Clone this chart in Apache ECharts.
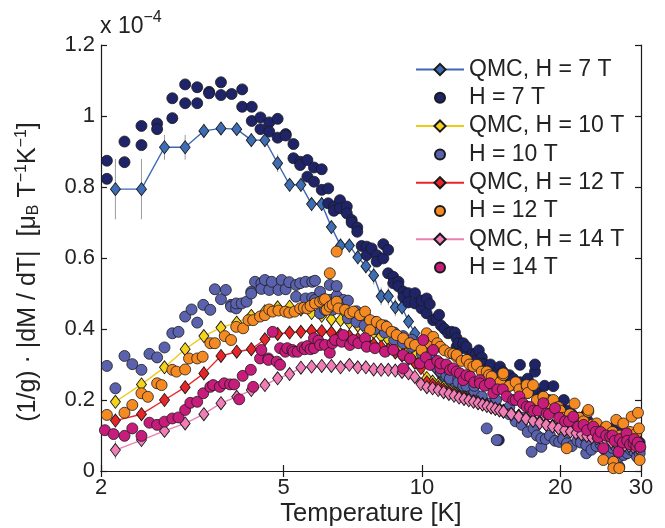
<!DOCTYPE html>
<html><head><meta charset="utf-8">
<script src="https://cdn.jsdelivr.net/npm/echarts@6/dist/echarts.min.js"></script>
<style>html,body{margin:0;padding:0;background:#fff}#c{width:665px;height:528px}</style>
</head><body><div id="c"></div>
<script>
const xTicks=[2,5,10,20,30];
const yTicks=[0,0.2,0.4,0.6,0.8,1,1.2];
const legendNames=['QMC, H = 7 T','H = 7 T','QMC, H = 10 T','H = 10 T','QMC, H = 12 T','H = 12 T','QMC, H = 14 T','H = 14 T'];

const qmcT=[2.15,2.45,2.75,3.05,3.35,3.65,3.95,4.25,4.55,4.85,5.15,5.45,5.75,6.05,6.35,6.65,6.95,7.25,7.55,7.85,8.15,8.45,8.75,9.05,9.35,9.65,9.95,
10.25,10.55,10.85,11.15,11.45,11.75,12.05,12.35,12.65,12.95,13.25,13.55,13.85,14.15,14.45,14.75,15.05,
15.65,16.25,16.85,17.45,18.05,18.65,19.25,19.85,20.45,21.05,21.65,22.25,22.85,23.45,24.05,24.65,25.25,25.85,26.45,27.05,27.65,28.25,28.85,29.45];

const qmc7=[0.794,0.794,0.912,0.912,0.958,0.965,0.963,0.932,0.932,0.867,0.806,0.806,0.752,0.752,0.687,0.635,0.635,0.602,0.577,0.551,0.492,0.492,0.461,0.461,0.421,0.388,0.360,
0.330,0.300,0.280,0.265,0.250,0.238,0.228,0.220,0.213,0.206,0.200,0.194,0.189,0.184,0.179,0.174,0.170,
0.163,0.156,0.150,0.144,0.138,0.132,0.127,0.122,0.118,0.113,0.109,0.105,0.101,0.098,0.094,0.091,0.087,0.084,0.081,0.078,0.075,0.073,0.070,0.068];
const qmc10=[0.195,0.244,0.292,0.343,0.380,0.404,0.418,0.437,0.450,0.461,0.463,0.455,0.445,0.437,0.427,0.425,0.418,0.410,0.400,0.390,0.380,0.370,0.360,0.350,0.340,0.325,0.310,
0.262,0.252,0.244,0.236,0.229,0.222,0.216,0.210,0.205,0.200,0.195,0.190,0.186,0.181,0.176,0.172,0.168,
0.161,0.155,0.148,0.142,0.137,0.131,0.126,0.121,0.117,0.112,0.108,0.104,0.100,0.097,0.093,0.090,0.086,0.083,0.080,0.077,0.075,0.072,0.069,0.067];
const qmc12=[0.142,0.160,0.200,0.236,0.275,0.324,0.336,0.343,0.371,0.386,0.390,0.392,0.395,0.394,0.390,0.385,0.380,0.372,0.365,0.357,0.350,0.342,0.334,0.325,0.316,0.305,0.290,
0.250,0.243,0.236,0.229,0.223,0.217,0.211,0.206,0.202,0.197,0.193,0.189,0.185,0.180,0.176,0.172,0.168,
0.161,0.154,0.148,0.142,0.136,0.131,0.126,0.121,0.116,0.112,0.108,0.104,0.100,0.096,0.093,0.089,0.086,0.083,0.080,0.077,0.074,0.072,0.069,0.067];
const qmc14=[0.059,0.087,0.113,0.134,0.160,0.191,0.209,0.228,0.242,0.261,0.273,0.291,0.294,0.296,0.296,0.292,0.299,0.292,0.292,0.286,0.285,0.285,0.283,0.279,0.275,0.265,0.245,
0.236,0.233,0.228,0.222,0.217,0.212,0.207,0.203,0.199,0.195,0.191,0.187,0.183,0.179,0.175,0.171,0.167,
0.160,0.153,0.147,0.141,0.135,0.130,0.125,0.120,0.115,0.111,0.107,0.103,0.099,0.095,0.092,0.088,0.085,0.082,0.079,0.076,0.073,0.071,0.068,0.066];

const qmc7Err=[0.085,0.085,0.035,0.035,0.02,0.015,0.015,0.02,0.02,0.025,0.02,0.02,0.02,0.02,0.02,0.02,0.02,0.02,0.02,0.025,0.025,0.025,0.025,0.02,0.02,0.02,0.02];
const qmc10Err=[0.012,0.012,0.012,0.015,0.015,0.012,0.012,0.012,0.012,0.012,0.012,0.012,0.012,0.012,0.012,0.012,0.012,0.012,0.012,0.012,0.012,0.012,0.012,0.012,0.012,0.012,0.012];
const qmc12Err=[0.012,0.012,0.012,0.015,0.02,0.015,0.012,0.012,0.012,0.012,0.012,0.012,0.012,0.012,0.012,0.012,0.012,0.012,0.012,0.012,0.012,0.012,0.012,0.012,0.012,0.012,0.012];
const qmc14Err=[0.025,0.015,0.012,0.012,0.015,0.012,0.012,0.012,0.012,0.012,0.012,0.012,0.012,0.012,0.012,0.012,0.012,0.012,0.012,0.012,0.012,0.012,0.012,0.012,0.012,0.012,0.012];

const h7=[[2.06,0.874],[2.06,0.823],[2.25,0.928],[2.25,0.870],[2.45,0.972],[2.45,0.918],[2.65,0.979],[2.65,0.963],[2.86,1.050],[2.86,0.994],[3.05,1.089],[3.05,1.036],[3.24,1.081],[3.24,1.036],[3.44,1.068],[3.44,1.064],[3.65,1.095],[3.65,1.059],[3.85,1.062],[4.06,1.075],[4.06,1.026],[4.26,1.026],[4.26,0.986],[4.45,0.996],[4.45,0.963],[4.65,0.982],[4.65,0.956],[4.85,0.992],[4.85,0.939],[5.05,0.949],[5.05,0.945],[5.25,0.921],[5.25,0.881],[5.43,0.871],[5.43,0.862],[5.63,0.876],[5.63,0.829],[5.82,0.855],[5.82,0.815],[6.05,0.850],[6.05,0.792],[6.25,0.796],[6.25,0.754],[6.43,0.745],[6.43,0.733],[6.63,0.763],[6.63,0.740],[6.86,0.745],[6.86,0.726],[7.03,0.707],[7.03,0.700],[7.23,0.686],[7.23,0.674],[7.39,0.634],[7.58,0.632],[7.58,0.608],[7.77,0.627],[7.97,0.608],[7.97,0.590],[8.24,0.639],[8.24,0.599],[8.44,0.623],[8.44,0.557],[8.66,0.547],[8.66,0.529],[8.89,0.533],[8.89,0.520],[9.11,0.505],[9.11,0.490],[9.34,0.501],[9.34,0.475],[9.66,0.501],[9.66,0.472],[9.98,0.458],[9.98,0.480],[10.24,0.444],[10.24,0.486],[10.4,0.470],[10.58,0.425],[10.76,0.430],[10.9,0.440],[11.0,0.410],[11.2,0.400],[11.41,0.388],[11.6,0.392],[11.8,0.390],[11.9,0.350],[11.9,0.374],[12.0,0.360],[12.3,0.346],[12.3,0.360],[12.5,0.350],[12.73,0.322],[12.9,0.330],[13.1,0.330],[13.1,0.310],[13.3,0.340],[13.5,0.320],[13.5,0.303],[13.7,0.300],[13.93,0.280],[13.93,0.290],[14.1,0.300],[14.4,0.270],[14.6,0.280],[14.7,0.087],[14.79,0.294],[14.79,0.256],[15.0,0.280],[15.3,0.260],[15.5,0.270],[15.5,0.240],[15.8,0.260],[16.1,0.240],[16.35,0.299],[16.35,0.250],[16.6,0.230],[17.0,0.260],[17.0,0.220],[17.3,0.240],[17.63,0.280],[17.63,0.300],[17.9,0.220],[18.2,0.210],[18.5,0.240],[18.5,0.200],[18.9,0.200],[19.33,0.239],[19.33,0.190],[19.7,0.180],[20.0,0.160],[20.37,0.200],[20.37,0.170],[20.8,0.170],[21.2,0.160],[21.2,0.150],[21.6,0.140],[22.0,0.150],[22.0,0.130],[22.4,0.130],[22.8,0.160],[23.0,0.140],[23.0,0.120],[23.5,0.120],[24.0,0.130],[24.0,0.110],[24.5,0.120],[25.0,0.120],[25.0,0.100],[25.5,0.110],[26.0,0.120],[26.0,0.095],[26.5,0.100],[27.0,0.110],[27.0,0.090],[27.5,0.095],[28.0,0.100],[28.0,0.085],[28.5,0.090],[29.0,0.090],[29.0,0.070],[29.4,0.085],[29.8,0.080],[29.8,0.060]];

const h10=[[2.06,0.296],[2.15,0.233],[2.25,0.324],[2.34,0.301],[2.45,0.285],[2.55,0.330],[2.65,0.320],[2.75,0.348],[2.86,0.388],[2.95,0.392],[3.05,0.435],[3.15,0.455],[3.24,0.418],[3.34,0.468],[3.46,0.454],[3.54,0.512],[3.65,0.484],[3.74,0.510],[3.84,0.468],[3.84,0.463],[3.94,0.458],[3.94,0.472],[4.05,0.472],[4.15,0.477],[4.25,0.505],[4.25,0.500],[4.33,0.533],[4.47,0.529],[4.47,0.513],[4.55,0.538],[4.65,0.510],[4.71,0.533],[4.87,0.510],[4.95,0.538],[5.05,0.512],[5.14,0.532],[5.32,0.524],[5.32,0.491],[5.43,0.529],[5.58,0.533],[5.58,0.486],[5.77,0.533],[5.77,0.488],[5.85,0.536],[5.85,0.482],[6.00,0.505],[6.00,0.444],[6.15,0.454],[6.30,0.524],[6.30,0.482],[6.39,0.454],[6.52,0.493],[6.52,0.521],[6.74,0.482],[6.9,0.480],[6.9,0.430],[7.2,0.420],[7.2,0.450],[7.5,0.410],[7.5,0.440],[7.9,0.400],[7.9,0.420],[8.3,0.390],[8.3,0.410],[8.7,0.370],[8.7,0.390],[9.1,0.360],[9.1,0.380],[9.5,0.350],[9.5,0.370],[10.0,0.330],[10.0,0.350],[10.3,0.310],[10.5,0.320],[10.5,0.300],[10.8,0.290],[11.0,0.300],[11.0,0.280],[11.3,0.270],[11.5,0.280],[11.5,0.260],[12.0,0.260],[12.0,0.250],[12.3,0.240],[12.5,0.240],[13.0,0.220],[13.0,0.240],[13.3,0.200],[13.5,0.210],[13.84,0.120],[14.0,0.190],[14.55,0.087],[14.5,0.200],[15.0,0.170],[15.5,0.180],[15.5,0.160],[16.0,0.140],[16.5,0.150],[16.5,0.130],[17.0,0.110],[17.34,0.054],[17.5,0.120],[17.8,0.100],[18.2,0.068],[18.2,0.092],[18.6,0.090],[19.0,0.100],[19.5,0.085],[19.9,0.082],[20.3,0.090],[20.7,0.078],[21.2,0.070],[21.8,0.085],[22.2,0.080],[22.8,0.050],[22.8,0.073],[23.4,0.060],[24.0,0.070],[24.5,0.075],[25.0,0.060],[25.5,0.050],[26.0,0.065],[26.4,0.070],[26.9,0.012],[26.9,0.040],[27.5,0.045],[28.0,0.050],[28.5,0.060],[29.0,0.055],[29.4,0.040],[29.8,0.050]];

const h12=[[2.06,0.158],[2.25,0.164],[2.34,0.186],[2.45,0.219],[2.53,0.209],[2.65,0.247],[2.71,0.242],[2.86,0.285],[2.92,0.280],[3.05,0.286],[3.11,0.317],[3.24,0.317],[3.33,0.322],[3.46,0.360],[3.54,0.360],[3.72,0.380],[3.84,0.369],[3.94,0.406],[4.08,0.402],[4.19,0.425],[4.29,0.425],[4.44,0.435],[4.55,0.439],[4.65,0.455],[4.73,0.449],[4.87,0.452],[5.04,0.449],[5.14,0.446],[5.28,0.449],[5.43,0.458],[5.53,0.460],[5.63,0.458],[5.72,0.465],[5.85,0.472],[6.00,0.477],[6.10,0.482],[6.15,0.484],[6.20,0.454],[6.30,0.557],[6.30,0.463],[6.39,0.468],[6.52,0.618],[6.52,0.477],[6.58,0.458],[6.80,0.454],[6.97,0.444],[7.09,0.449],[7.33,0.439],[7.52,0.449],[7.71,0.425],[7.71,0.397],[7.97,0.420],[8.17,0.411],[8.38,0.406],[8.59,0.392],[8.81,0.383],[9.10,0.374],[9.42,0.360],[9.66,0.355],[9.98,0.341],[10.24,0.388],[10.40,0.360],[10.58,0.378],[10.8,0.360],[10.97,0.350],[11.2,0.340],[11.52,0.332],[11.7,0.330],[11.90,0.322],[11.90,0.327],[12.2,0.310],[12.52,0.313],[12.7,0.300],[12.94,0.294],[13.17,0.299],[13.5,0.280],[13.84,0.280],[14.0,0.270],[14.19,0.266],[14.55,0.237],[14.8,0.250],[15.03,0.270],[15.03,0.275],[15.5,0.240],[16.00,0.250],[16.3,0.230],[16.91,0.237],[16.91,0.242],[17.0,0.220],[17.46,0.242],[17.8,0.200],[18.38,0.209],[18.8,0.190],[19.33,0.200],[19.8,0.180],[20.0,0.170],[20.3,0.150],[20.67,0.064],[21.0,0.160],[21.3,0.140],[21.5,0.190],[22.0,0.150],[22.2,0.130],[22.5,0.140],[23.03,0.167],[23.03,0.172],[23.5,0.130],[23.8,0.120],[24.02,0.134],[24.5,0.100],[24.83,0.031],[25.0,0.120],[25.2,0.125],[25.6,0.090],[26.0,0.110],[26.11,0.026],[26.11,0.008],[26.5,0.144],[26.8,0.090],[26.9,0.008],[27.0,0.100],[27.45,0.134],[27.8,0.080],[28.0,0.100],[28.4,0.110],[28.63,0.153],[29.0,0.090],[29.2,0.070],[29.3,0.106],[29.55,0.164],[29.7,0.120],[29.8,0.031]];

const h14=[[2.04,0.115],[2.13,0.104],[2.25,0.099],[2.34,0.120],[2.45,0.099],[2.55,0.136],[2.65,0.130],[2.75,0.139],[2.86,0.148],[2.95,0.151],[3.05,0.172],[3.13,0.192],[3.24,0.195],[3.34,0.219],[3.46,0.237],[3.51,0.242],[3.63,0.237],[3.71,0.247],[3.82,0.244],[3.90,0.244],[4.00,0.202],[4.07,0.268],[4.24,0.285],[4.29,0.237],[4.44,0.317],[4.47,0.341],[4.63,0.317],[4.63,0.313],[4.73,0.392],[4.83,0.308],[4.91,0.346],[4.91,0.299],[5.04,0.336],[5.09,0.346],[5.22,0.341],[5.25,0.336],[5.36,0.336],[5.49,0.348],[5.56,0.343],[5.63,0.352],[5.72,0.343],[5.82,0.346],[5.82,0.374],[5.95,0.367],[6.00,0.355],[6.15,0.355],[6.30,0.333],[6.39,0.360],[6.47,0.369],[6.69,0.364],[6.74,0.383],[6.97,0.355],[7.09,0.369],[7.27,0.360],[7.52,0.374],[7.58,0.350],[7.90,0.346],[8.31,0.336],[8.66,0.341],[9.10,0.327],[9.10,0.289],[9.42,0.317],[9.90,0.303],[10.07,0.369],[10.2,0.320],[10.41,0.299],[10.58,0.341],[10.8,0.310],[10.97,0.289],[10.97,0.303],[11.3,0.300],[11.52,0.285],[11.70,0.289],[11.9,0.280],[12.10,0.275],[12.30,0.256],[12.5,0.270],[12.73,0.266],[13.0,0.250],[13.38,0.256],[13.38,0.247],[13.7,0.240],[14.07,0.247],[14.30,0.219],[14.6,0.230],[15.0,0.230],[15.3,0.210],[15.81,0.200],[16.0,0.200],[16.3,0.210],[16.6,0.190],[16.91,0.181],[17.2,0.180],[17.5,0.170],[17.9,0.170],[18.38,0.191],[18.69,0.162],[18.9,0.160],[19.49,0.177],[19.9,0.150],[20.5,0.140],[20.9,0.140],[21.36,0.153],[21.9,0.125],[22.5,0.130],[22.9,0.115],[23.61,0.125],[23.9,0.110],[24.2,0.095],[24.5,0.110],[24.83,0.064],[25.2,0.100],[25.7,0.097],[26.0,0.100],[26.3,0.085],[26.8,0.054],[27.0,0.090],[27.4,0.080],[27.9,0.106],[28.0,0.085],[28.4,0.075],[28.9,0.078],[29.0,0.090],[29.3,0.070],[29.5,0.080],[29.9,0.068]];

const FONT='"Liberation Sans", Arial, Helvetica, sans-serif';
const lg=v=>Math.log10(v);
const qmcData=vals=>vals.map((v,i)=>[lg(qmcT[i]),v]);
const errData=(vals,errs)=>errs.map((e,i)=>[lg(qmcT[i]),vals[i]-e,vals[i]+e]);
const ptData=pairs=>pairs.map(p=>[lg(p[0]),p[1]]);
const EDGE='#1a1a1a';
const circleIcon='path://M0,0M14,14M2,7a5,5 0 1,0 10,0a5,5 0 1,0 -10,0Z';

function errSeries(vals,errs){
  return {type:'custom',data:errData(vals,errs),encode:{x:0,y:[1,2]},silent:true,z:2,
    renderItem:(p,api)=>{const a=api.coord([api.value(0),api.value(1)]);const b=api.coord([api.value(0),api.value(2)]);
      return {type:'line',shape:{x1:a[0],y1:a[1],x2:b[0],y2:b[1]},style:{stroke:'#9c9c9c',lineWidth:1}};}};
}
function qmcSeries(name,vals,lineColor,fill){
  return {type:'line',name,data:qmcData(vals),symbol:'diamond',symbolSize:[10,13],showSymbol:true,z:2,
    lineStyle:{color:lineColor,width:1.4},itemStyle:{color:fill,borderColor:EDGE,borderWidth:0.9}};
}
function dataSeries(name,pairs,fill){
  return {type:'scatter',name,data:ptData(pairs),symbol:'circle',symbolSize:11,z:2,
    itemStyle:{color:fill,borderColor:EDGE,borderWidth:0.8,opacity:1}};
}
const C={q7:['#3E68B3','#3D6DB5'],d7:'#1F2468',q10:['#EDCB19','#F3D31C'],d10:'#5A62AE',q12:['#E8262A','#E8262A'],d12:'#F58A23',q14:['#EE7FB4','#F07DB5'],d14:'#C71C7B'};

const chart=echarts.init(document.getElementById('c'),null,{renderer:'canvas'});
const axisLineStyle={color:'#1a1a1a',width:1.2};
chart.setOption({
  animation:false,
  backgroundColor:'#fff',
  grid:{left:101,right:24,top:45,bottom:57,containLabel:false},
  xAxis:[
    {type:'value',min:lg(xTicks[0]),max:lg(xTicks[xTicks.length-1]),position:'bottom',
     axisLine:{show:true,lineStyle:axisLineStyle},splitLine:{show:false},
     axisTick:{show:true,inside:true,length:6,lineStyle:axisLineStyle,customValues:xTicks.map(lg)},
     axisLabel:{show:true,customValues:xTicks.map(lg),formatter:v=>String(Math.round(Math.pow(10,v))),fontFamily:FONT,fontSize:22,color:'#222',margin:6}},
    {type:'value',min:lg(xTicks[0]),max:lg(xTicks[xTicks.length-1]),position:'top',
     axisLine:{show:true,lineStyle:axisLineStyle},splitLine:{show:false},
     axisTick:{show:true,inside:true,length:6,lineStyle:axisLineStyle,customValues:xTicks.map(lg)},
     axisLabel:{show:false}}
  ],
  yAxis:[
    {type:'value',min:yTicks[0],max:yTicks[yTicks.length-1],interval:0.2,position:'left',
     axisLine:{show:true,lineStyle:axisLineStyle},splitLine:{show:false},
     axisTick:{show:true,inside:true,length:6,lineStyle:axisLineStyle},
     axisLabel:{formatter:v=>String(+v.toFixed(1)),fontFamily:FONT,fontSize:22,color:'#222',margin:6}},
    {type:'value',min:yTicks[0],max:yTicks[yTicks.length-1],interval:0.2,position:'right',
     axisLine:{show:true,lineStyle:axisLineStyle},splitLine:{show:false},
     axisTick:{show:true,inside:true,length:6,lineStyle:axisLineStyle},axisLabel:{show:false}}
  ],
  legend:{orient:'vertical',left:415,top:58,padding:0,itemWidth:48,itemHeight:14,itemGap:5.3,selectedMode:false,
    textStyle:{fontFamily:FONT,fontSize:23,lineHeight:23,color:'#222'},
    data:legendNames.map((n,i)=>i%2===0?{name:n}:{name:n,icon:circleIcon})},
  graphic:[
    {type:'text',x:28,y:272,rotation:Math.PI/2,silent:true,
     style:{text:'(1/g) · |dM / dT|  [μ{sub|B} T{sup|−1}K{sup|−1}]',fontFamily:FONT,fontSize:25,fill:'#222',align:'center',verticalAlign:'middle',
       rich:{sub:{fontFamily:FONT,fontSize:16,fill:'#222',padding:[11,0,0,0]},sup:{fontFamily:FONT,fontSize:16,fill:'#222',padding:[0,0,12,0]}}}},
    {type:'text',x:100,y:27,silent:true,
     style:{text:'x 10{sup|−4}',fontFamily:FONT,fontSize:23,fill:'#222',align:'left',verticalAlign:'middle',
       rich:{sup:{fontFamily:FONT,fontSize:16,fill:'#222',padding:[0,0,18,0]}}}},
    {type:'text',x:371,y:514,silent:true,
     style:{text:'Temperature [K]',fontFamily:FONT,fontSize:25.5,fill:'#222',align:'center',verticalAlign:'middle'}}
  ],
  series:[
    errSeries(qmc7.slice(0,qmc7Err.length),qmc7Err),
    qmcSeries(legendNames[0],qmc7,C.q7[0],C.q7[1]),
    dataSeries(legendNames[1],h7,C.d7),
    errSeries(qmc10.slice(0,qmc10Err.length),qmc10Err),
    qmcSeries(legendNames[2],qmc10,C.q10[0],C.q10[1]),
    dataSeries(legendNames[3],h10,C.d10),
    errSeries(qmc12.slice(0,qmc12Err.length),qmc12Err),
    qmcSeries(legendNames[4],qmc12,C.q12[0],C.q12[1]),
    dataSeries(legendNames[5],h12,C.d12),
    errSeries(qmc14.slice(0,qmc14Err.length),qmc14Err),
    qmcSeries(legendNames[6],qmc14,C.q14[0],C.q14[1]),
    dataSeries(legendNames[7],h14,C.d14)
  ]
});
</script></body></html>
